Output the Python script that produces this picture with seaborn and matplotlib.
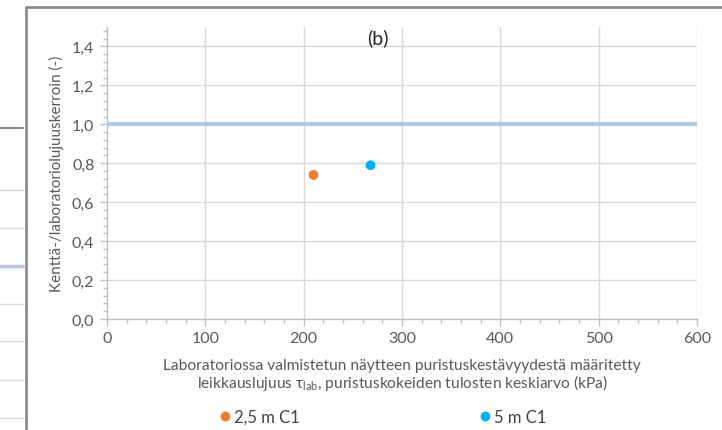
import matplotlib
matplotlib.use("Agg")
import matplotlib.pyplot as plt
from matplotlib.ticker import MultipleLocator, FuncFormatter
from matplotlib.lines import Line2D
import seaborn as sns
import pandas as pd

# ---- data ----
series_names = ["2,5 m C1", "5 m C1"]
x_values = [210, 268]          # tau_lab (kPa)
y_values = [0.74, 0.79]        # field / lab factor
ref_level = [1.0]
series_colors = ["#ED7D31", "#00B0F0"]
x_ticks = [0, 100, 200, 300, 400, 500, 600]
y_ticks = [0.0, 0.2, 0.4, 0.6, 0.8, 1.0, 1.2, 1.4]

sns.set_theme(style="white")
plt.rcParams['font.family'] = ['Lato', 'DejaVu Sans']
plt.rcParams['mathtext.fontset'] = 'custom'
plt.rcParams['mathtext.rm'] = 'Lato'

TXT = "#595959"
fig = plt.figure(figsize=(7.22, 4.31), dpi=100)
ax = fig.add_axes([107/722, 1-320/431, 590/722, 292/431])

df = pd.DataFrame({"x": x_values, "y": y_values, "s": series_names})
ax.axhline(ref_level[0], color="#B4C7E7", lw=3, zorder=2)
sns.scatterplot(data=df, x="x", y="y", hue="s", palette=series_colors,
                s=50, edgecolor="none", ax=ax, zorder=3, legend=True)

ax.set_xlim(0, 600)
ax.set_ylim(0, 1.5)
ax.set_xticks(x_ticks)
ax.set_yticks(y_ticks)
ax.xaxis.set_minor_locator(MultipleLocator(20))
ax.yaxis.set_minor_locator(MultipleLocator(0.04))
ax.yaxis.set_major_formatter(FuncFormatter(lambda v, p: f"{v:.1f}".replace(".", ",")))
ax.grid(True, which="major", color="#D9D9D9", lw=1, zorder=0)
ax.set_axisbelow(True)
for s in ["top", "right"]:
    ax.spines[s].set_visible(False)
for s in ["left", "bottom"]:
    ax.spines[s].set_color("#BFBFBF")
    ax.spines[s].set_linewidth(1)
ax.tick_params(which="both", direction="out", color="#BFBFBF", labelcolor=TXT,
               labelsize=11.5)
ax.tick_params(which="major", length=5, width=1)
ax.tick_params(which="minor", length=3, width=1)
ax.tick_params(axis="x", which="both", bottom=True, pad=4)
ax.tick_params(axis="y", which="both", left=True, pad=4)

ax.set_xlabel("Laboratoriossa valmistetun näytteen puristuskestävyydestä määritetty\n"
              "leikkauslujuus τ$_\\mathregular{lab}$, puristuskokeiden tulosten keskiarvo (kPa)",
              color=TXT, fontsize=11.2, labelpad=9, linespacing=1.0)
ax.set_ylabel("Kenttä-/laboratoriolujuuskerroin (-)", color=TXT, fontsize=11, labelpad=6)
ax.text(0.459, 0.966, "(b)", transform=ax.transAxes, ha="center", va="center",
        fontsize=14, color="#262626")

h, l = ax.get_legend_handles_labels()
ax.legend(h, l, loc="center left", bbox_to_anchor=(217/722, 1-418/431),
          bbox_transform=fig.transFigure, ncol=2, frameon=False,
          fontsize=12, labelcolor="#404040", handletextpad=0.05, handlelength=1.0,
          columnspacing=10.6, borderpad=0, borderaxespad=0, markerscale=1.0)

# chart border and neighbouring chart fragment
fig.add_artist(Line2D([26/722, 26/722], [0, 1-8/431], transform=fig.transFigure,
                      color="#8C8C8C", lw=2))
fig.add_artist(Line2D([26/722, 1], [1-8/431, 1-8/431], transform=fig.transFigure,
                      color="#8C8C8C", lw=2))
fig.add_artist(Line2D([0, 23/722], [1-129/431]*2, transform=fig.transFigure,
                      color="#8C8C8C", lw=1.5))
for yy in [191, 229, 305, 342, 381, 419]:
    fig.add_artist(Line2D([0, 23/722], [1-yy/431]*2, transform=fig.transFigure,
                          color="#D9D9D9", lw=1))
fig.add_artist(Line2D([0, 23/722], [1-267/431]*2, transform=fig.transFigure,
                      color="#B4C7E7", lw=2.5))

fig.savefig("out.png", dpi=100)
